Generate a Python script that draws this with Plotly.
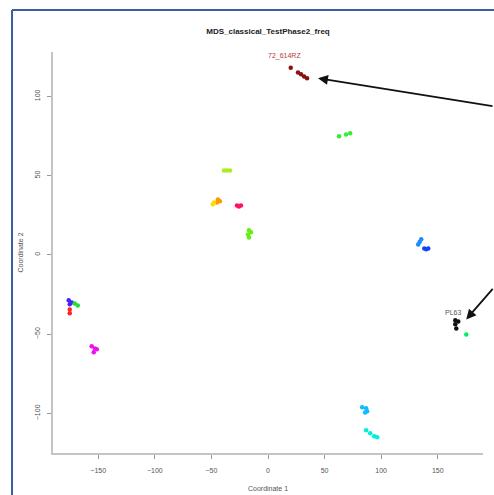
import plotly.graph_objects as go

# ---- data ----
group_names = ["72_614RZ", "g_lime", "g_yellowgreen", "g_orange", "g_yellow", "g_pink",
               "g_green", "g_blue_left", "g_green_left", "g_red_left", "g_magenta",
               "g_blue_light", "g_blue_dark", "PL63", "g_springgreen", "g_skyblue", "g_cyan"]
group_colors = ["#8b1010", "#33ee33", "#aaee22", "#ff9900", "#ffdd00", "#ff1166",
                "#66ee11", "#4422ff", "#22dd33", "#ff2222", "#ee11ee",
                "#1a8cff", "#1144ff", "#111111", "#00ee66", "#11bbff", "#00eedd"]
group_x = [
    [20.1, 26.5, 29.2, 31.9, 34.5],
    [62.8, 69.0, 72.6],
    [-38.9, -36.3, -33.6],
    [-44.2, -42.5, -45.1],
    [-48.7, -47.8],
    [-27.4, -23.9, -25.7],
    [-16.8, -17.7, -16.8, -15.0],
    [-176.1, -175.2, -173.5],
    [-170.8, -168.1],
    [-175.2, -175.2],
    [-155.8, -153.1, -154.0, -151.3],
    [135.4, 132.7, 134.0],
    [138.1, 141.6, 139.8],
    [165.5, 165.5, 166.4, 168.1],
    [175.2],
    [83.2, 86.7, 87.6, 85.8],
    [86.7, 90.3, 93.8, 96.5],
]
group_y = [
    [118.1, 115.1, 113.9, 112.6, 111.4],
    [74.8, 76.0, 76.7],
    [53.3, 53.3, 53.3],
    [35.0, 33.8, 33.1],
    [31.9, 33.1],
    [31.2, 31.2, 30.6],
    [15.5, 12.9, 11.0, 14.2],
    [-28.7, -31.2, -30.0],
    [-30.6, -31.9],
    [-34.4, -36.9],
    [-57.7, -59.0, -61.5, -59.6],
    [9.8, 6.6, 8.2],
    [4.1, 4.1, 3.5],
    [-41.3, -43.8, -46.4, -42.0],
    [-50.2],
    [-96.2, -96.8, -98.7, -99.4],
    [-110.7, -112.6, -114.5, -115.1],
]
x_ticks = [-150, -100, -50, 0, 50, 100, 150]
y_ticks = [-100, -50, 0, 50, 100]

label_text = ["72_614RZ", "PL63"]
label_x = [15.0, 163.7]
label_y = [125.2, -36.3]
label_colors = ["#b03a3a", "#555555"]

arrow_x = [44.2, 175.2]
arrow_y = [111.4, -40.7]

fig = go.Figure()
for name, col, xs, ys in zip(group_names, group_colors, group_x, group_y):
    fig.add_trace(go.Scatter(x=xs, y=ys, mode="markers", name=name,
                             marker=dict(color=col, size=4.5, line=dict(width=0)),
                             showlegend=False))

for t, lx, ly, c in zip(label_text, label_x, label_y, label_colors):
    fig.add_annotation(x=lx, y=ly, text=t, showarrow=False,
                       font=dict(size=7, color=c, family="Liberation Sans"))

fig.add_annotation(x=arrow_x[0], y=arrow_y[0], ax=190, ay=28, text="",
                   showarrow=True, arrowhead=2, arrowsize=1.1, arrowwidth=1.8,
                   arrowcolor="#111111")
fig.add_annotation(x=arrow_x[1], y=arrow_y[1], ax=36, ay=-32, text="",
                   showarrow=True, arrowhead=2, arrowsize=1.1, arrowwidth=1.8,
                   arrowcolor="#111111")

# blue frame (left and top edges of the surrounding box)
frame = dict(color="#3a5f9a", width=2)
fig.add_shape(type="line", xref="paper", yref="paper", x0=-0.0953, x1=-0.0953,
              y0=1.1047, y1=-0.2, line=frame)
fig.add_shape(type="line", xref="paper", yref="paper", x0=-0.0953, x1=1.1,
              y0=1.1047, y1=1.1047, line=frame)

axis_common = dict(showgrid=False, zeroline=False, showline=True, linecolor="#c4c4c4",
                   linewidth=2, ticks="outside", ticklen=4, tickcolor="#999999",
                   tickfont=dict(size=7, color="#555555", family="Liberation Sans"),
                   mirror=False, automargin=False)
fig.update_layout(
    width=494, height=495,
    margin=dict(l=53, r=11, t=52, b=42),
    paper_bgcolor="white", plot_bgcolor="white",
    title=dict(text="<b>MDS_classical_TestPhase2_freq</b>", x=(268) / 494, xanchor="center",
               y=1 - 31 / 495, yanchor="middle",
               font=dict(size=8, color="#222222", family="Liberation Sans")),
    xaxis=dict(range=[-190, 190], tickvals=x_ticks, ticklabelstandoff=6,
               title=dict(text="Coordinate 1", standoff=13,
                          font=dict(size=7, color="#555555", family="Liberation Sans")),
               **axis_common),
    yaxis=dict(range=[-125, 128], tickvals=y_ticks, tickangle=-90, ticklabelstandoff=4,
               title=dict(text="Coordinate 2", standoff=10,
                          font=dict(size=7, color="#555555", family="Liberation Sans")),
               **axis_common),
)

fig.write_html("out.html")
